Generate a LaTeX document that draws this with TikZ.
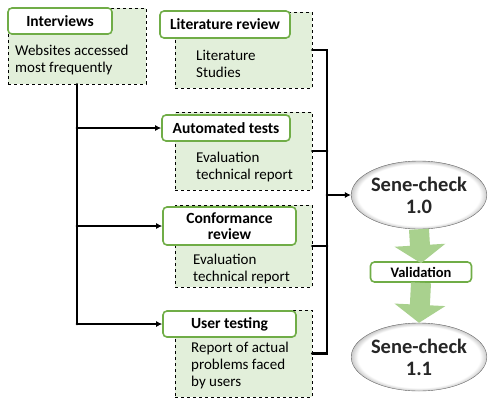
\documentclass[tikz,border=0pt]{standalone}
\usepackage{fontspec}
\setmainfont{Carlito}
\usepackage{tikz}
\usetikzlibrary{arrows.meta,shapes.geometric,positioning}

\definecolor{grpfill}{RGB}{226,239,218}
\definecolor{ttlline}{RGB}{112,173,71}
\definecolor{arrfill}{RGB}{169,209,142}
\pgfdeclareradialshading{senefade}{\pgfpoint{0bp}{0bp}}{color(0bp)=(white); color(22.5bp)=(white); color(25.5bp)=(gray!50); color(50bp)=(gray!50)}

\begin{document}
\begin{tikzpicture}[x=1pt, y=-1pt,
    every node/.style={font=\fontsize{15}{17}\selectfont, inner sep=0pt},
    grp/.style={draw, dashed, fill=grpfill, minimum width=137pt},
    ttl/.style={draw=ttlline, line width=1.6pt, fill=white, rounded corners=4pt,
        font=\fontsize{15.5}{16.5}\selectfont\bfseries, align=center},
    txt/.style={anchor=west, align=left},
    link/.style={line width=2.8pt, line cap=round},
    tip/.style={-{Latex[length=6pt, width=6pt]}},
    sene/.style={ellipse, draw=gray!80!black, thin, shading=senefade,
        minimum width=124pt, minimum height=68pt, align=center,
        font=\fontsize{20.5}{22}\selectfont\bfseries, text=black!85},
    fat/.style={line width=20pt, arrfill, -{Triangle[length=18pt, width=50pt]}}]
    \useasboundingbox (0,0) rectangle (495,405);
    % Interviews
    \node[grp, minimum width=138pt, minimum height=76pt] (grpI) at (77,46) {};
    \node[ttl, minimum width=104pt, minimum height=26pt] (ttlI) at (60,21) {Interviews};
    \node[txt] (txtI) at (15,60) {Websites accessed\\most frequently};
    % Literature review
    \node[grp, minimum height=76pt] (grpL) at (243.5,50) {};
    \node[ttl, minimum width=130pt, minimum height=27pt] (ttlL) at (225,24.5) {Literature review};
    \node[txt] (txtL) at (196,64) {Literature\\Studies};
    % Automated tests
    \node[grp, minimum height=78pt] (grpA) at (243.5,151) {};
    \node[ttl, minimum width=128pt, minimum height=26pt] (ttlA) at (226,128) {Automated tests};
    \node[txt] (txtA) at (196,167) {Evaluation\\technical report};
    % Conformance review
    \node[grp, minimum height=82pt] (grpC) at (243.5,246) {};
    \node[ttl, minimum width=133pt, minimum height=38pt] (ttlC) at (229.5,226) {Conformance\\review};
    \node[txt] (txtC) at (193,269) {Evaluation\\technical report};
    % User testing
    \node[grp, minimum height=87pt] (grpU) at (243.5,353.5) {};
    \node[ttl, minimum width=133pt, minimum height=26pt] (ttlU) at (229.5,324) {User testing};
    \node[txt] (txtU) at (191,365) {Report of actual\\problems faced\\by users};
    % Sene-check and validation
    \node[sene] (sc0) at (419,195) {Sene-check\\1.0};
    \node[ttl, minimum width=101pt, minimum height=20pt, font=\fontsize{14.5}{16}\selectfont\bfseries] (val) at (421,272) {Validation};
    \node[sene] (sc1) at (419,357) {Sene-check\\1.1};
    % Left links
    \coordinate (trunk) at (77,0);
    \draw[link] (grpI.south) -- (trunk |- ttlU.west);
    \foreach \t in {ttlA, ttlC, ttlU} {
        \draw[link, tip] (trunk |- \t.west) -- (\t.west);
    }
    % Right links
    \coordinate (bus) at (327,0);
    \draw[link] (grpL.east) -- (bus |- grpL.east) -- (bus |- grpU.east) -- (grpU.east);
    \foreach \g in {grpA, grpC} {
        \draw[link] (\g.east) -- (bus |- \g.east);
    }
    \draw[link, tip] (bus |- sc0.west) -- (sc0.west);
    % Green arrows
    \draw[fat] (sc0.south) -- ([yshift=-2pt]val.north);
    \draw[fat] (val.south) -- (sc1.north);
\end{tikzpicture}
\end{document}
